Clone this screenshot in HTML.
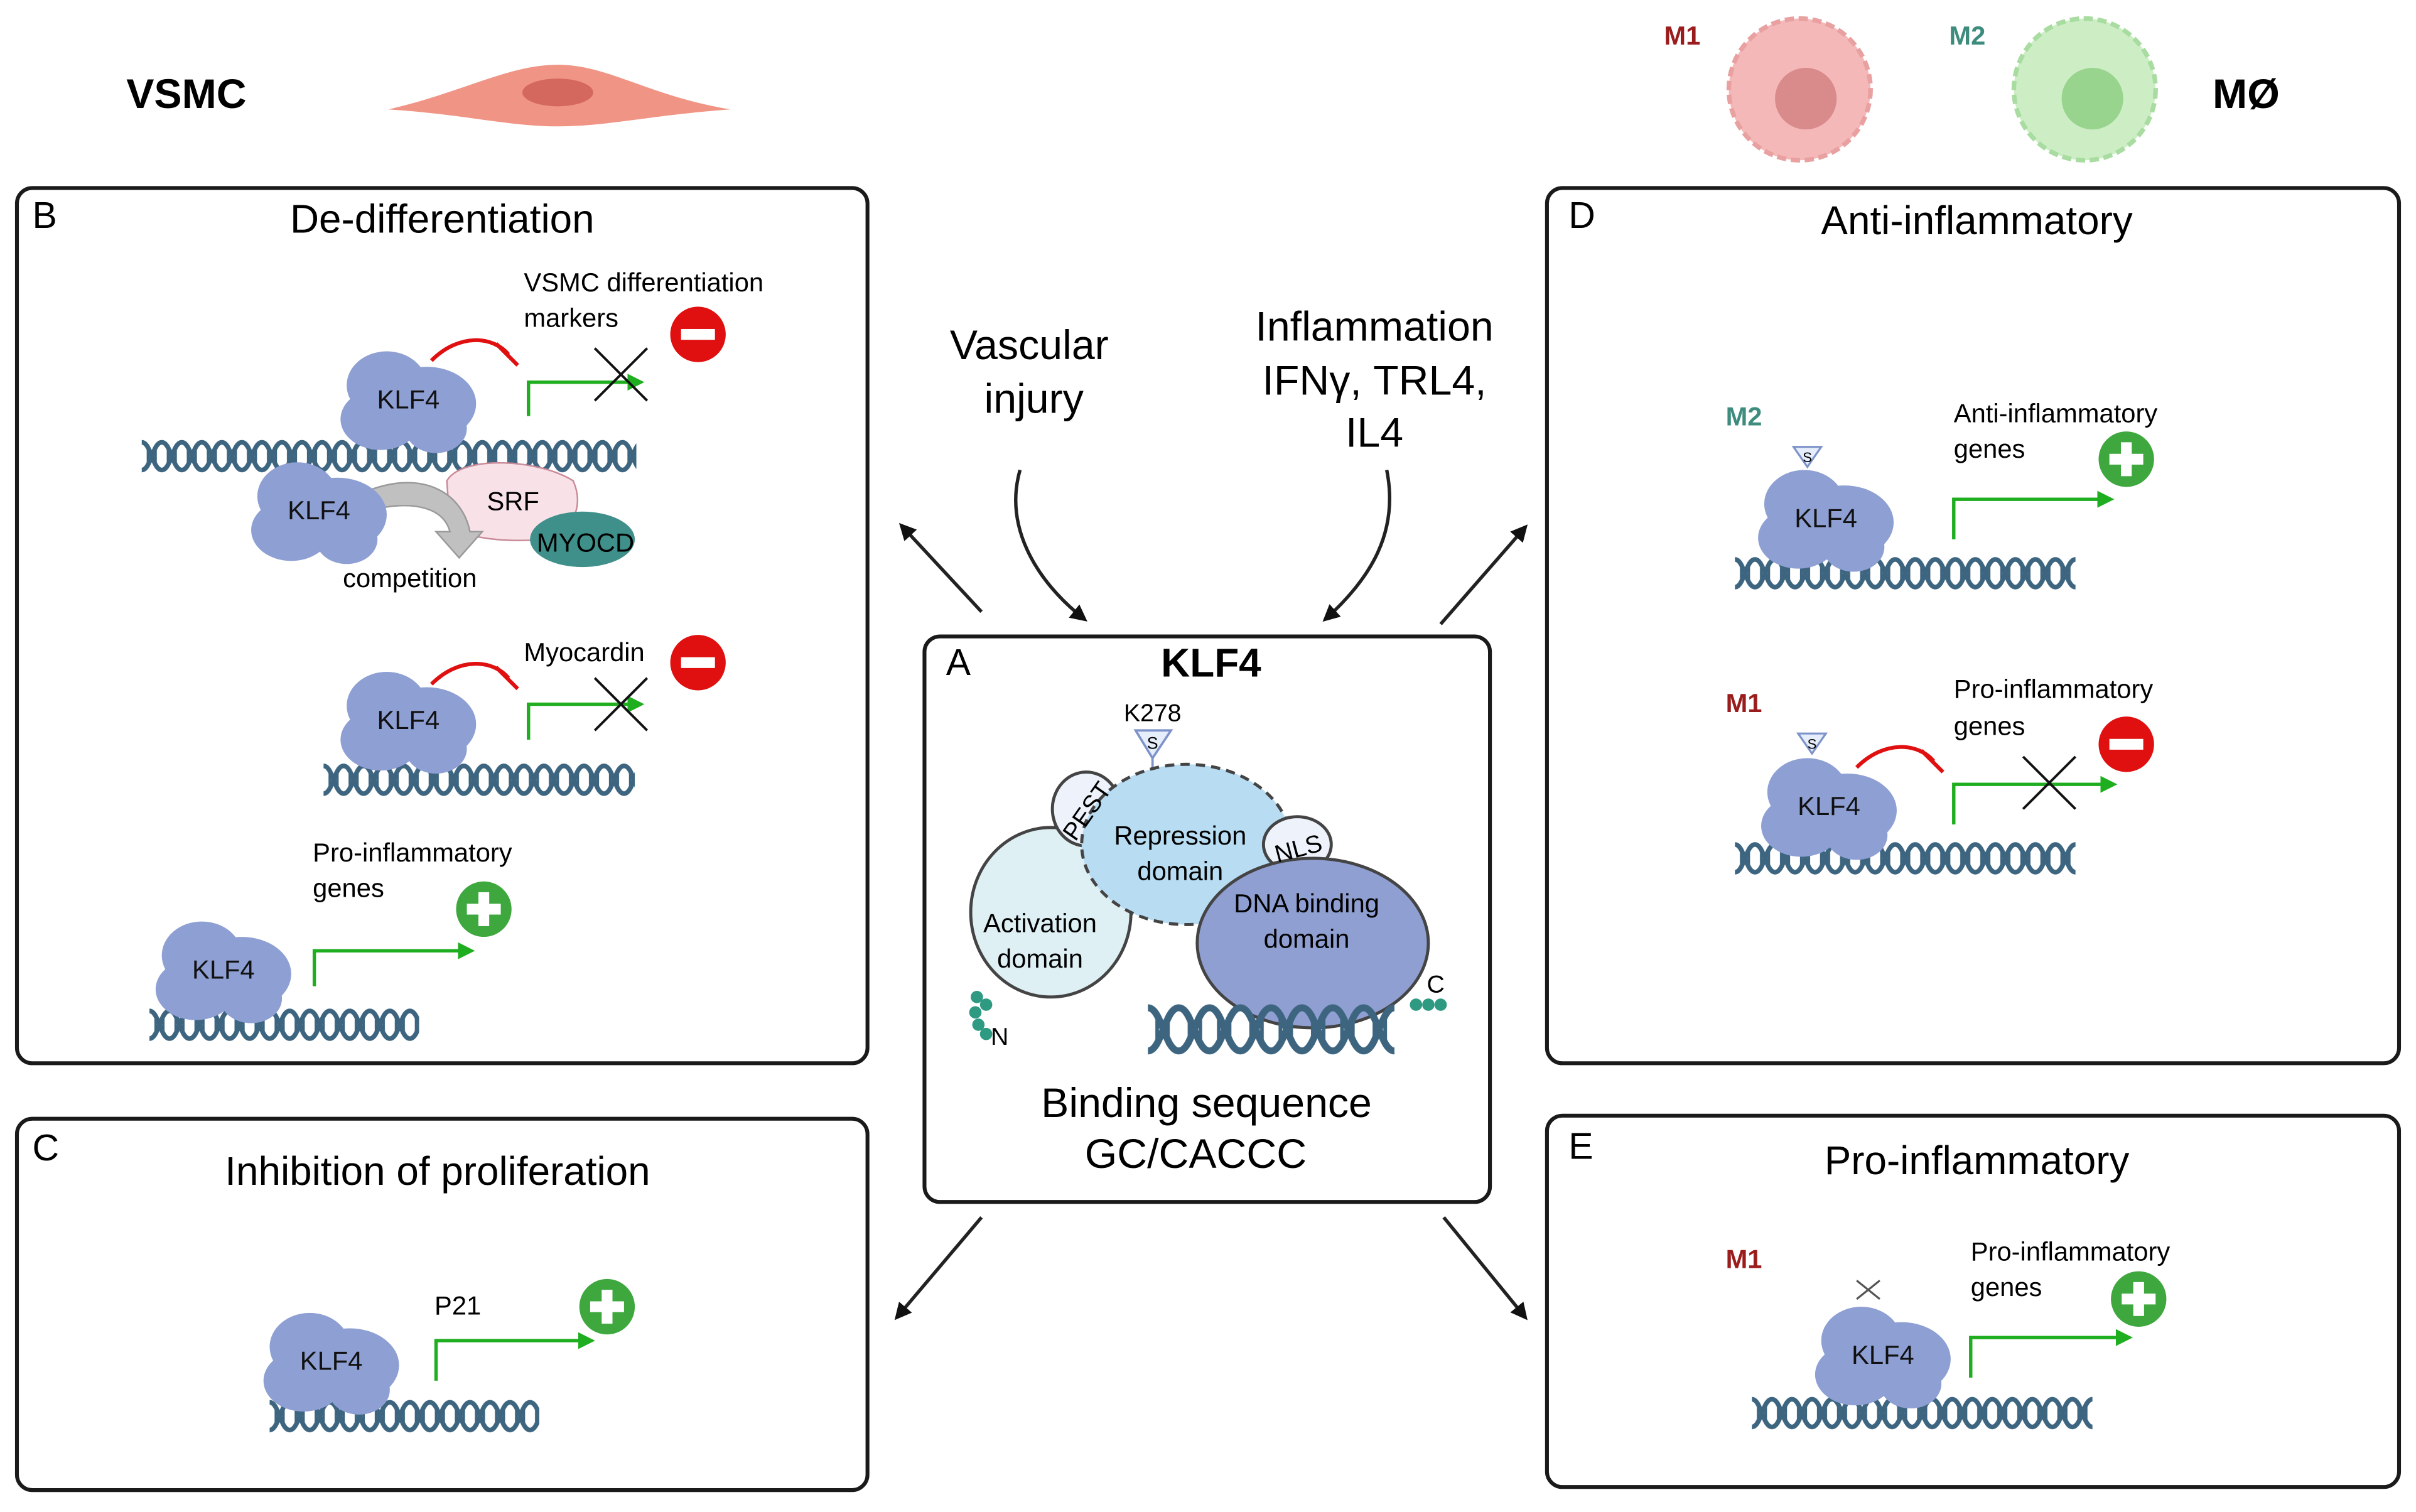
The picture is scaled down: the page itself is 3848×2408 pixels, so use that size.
<!DOCTYPE html>
<html><head><meta charset="utf-8"><style>html,body{margin:0;padding:0;background:#fff}svg{display:block}text{font-family:"Liberation Sans",sans-serif}</style></head>
<body>
<svg width="3848" height="2408" viewBox="0 0 1568 981.2" xmlns="http://www.w3.org/2000/svg">
<defs>
<pattern id="dna" x="0" y="0" width="26" height="24" patternUnits="userSpaceOnUse">
<g fill="none" stroke="#3d6580" stroke-width="3">
<path d="M0,3 C6,3 7,21 13,21 C19,21 20,3 26,3"/>
<path d="M0,21 C6,21 7,3 13,3 C19,3 20,21 26,21"/>
</g>
<g stroke="#3d6580" stroke-width="1.6"><line x1="4" y1="6" x2="4" y2="18"/><line x1="9" y1="6" x2="9" y2="18"/><line x1="17" y1="6" x2="17" y2="18"/><line x1="22" y1="6" x2="22" y2="18"/></g>
</pattern>
<pattern id="dnaB" x="0" y="0" width="40" height="36" patternUnits="userSpaceOnUse">
<g fill="none" stroke="#3d6580" stroke-width="4.5">
<path d="M0,4 C9,4 11,32 20,32 C29,32 31,4 40,4"/>
<path d="M0,32 C9,32 11,4 20,4 C29,4 31,32 40,32"/>
</g>
<g stroke="#3d6580" stroke-width="2.4"><line x1="6" y1="8" x2="6" y2="28"/><line x1="13" y1="8" x2="13" y2="28"/><line x1="27" y1="8" x2="27" y2="28"/><line x1="34" y1="8" x2="34" y2="28"/></g>
</pattern>
<g id="klf">
<ellipse cx="-12" cy="-8" rx="26" ry="22" fill="#8e9fd3"/>
<ellipse cx="14" cy="4" rx="32" ry="24" fill="#8e9fd3"/>
<ellipse cx="-16" cy="14" rx="26" ry="20" fill="#8e9fd3"/>
<ellipse cx="20" cy="20" rx="20" ry="16" fill="#8e9fd3"/>
<text x="2" y="7" font-size="17" text-anchor="middle" fill="#111">KLF4</text>
</g>
<marker id="ga" viewBox="0 0 10 10" refX="8" refY="5" markerWidth="5" markerHeight="5" orient="auto"><path d="M0,0 L10,5 L0,10z" fill="#1fae1f"/></marker>
<marker id="ka" viewBox="0 0 10 10" refX="8" refY="5" markerWidth="5" markerHeight="5" orient="auto"><path d="M0,0 L10,5 L0,10z" fill="#111"/></marker>
<g id="minus"><circle r="18" fill="#e01010"/><rect x="-11" y="-3.5" width="22" height="7" fill="#fff"/></g>
<g id="plus"><circle r="18" fill="#3ea83e"/><rect x="-11" y="-3.5" width="22" height="7" fill="#fff"/><rect x="-3.5" y="-11" width="7" height="22" fill="#fff"/></g>
<g id="xx" stroke="#111" stroke-width="1.6"><line x1="-17" y1="-17" x2="17" y2="17"/><line x1="-17" y1="17" x2="17" y2="-17"/></g>
<g id="inh"><path d="M0,12 C18,-6 40,-4 50,8" stroke="#e01010" stroke-width="2.5" fill="none"/><line x1="42" y1="1" x2="56" y2="15" stroke="#e01010" stroke-width="2.5"/></g>
</defs>

<!-- header -->
<text x="82" y="70" font-size="27" font-weight="bold">VSMC</text>
<path d="M252,71 C300,60 330,42 362,42 C395,42 420,62 474,71 C420,75 395,82 362,82 C330,82 300,74 252,71z" fill="#f09585"/>
<ellipse cx="362" cy="60" rx="23" ry="9" fill="#d4685f"/>
<text x="1080" y="29" font-size="17" font-weight="bold" fill="#9b1c1c">M1</text>
<circle cx="1168" cy="58" r="46" fill="#f4b8b8" stroke="#e8a0a0" stroke-width="3" stroke-dasharray="6 3"/>
<circle cx="1172" cy="64" r="20" fill="#d98a8a"/>
<text x="1265" y="29" font-size="17" font-weight="bold" fill="#3e8c7e">M2</text>
<circle cx="1353" cy="58" r="46" fill="#cdeec5" stroke="#a8dca0" stroke-width="3" stroke-dasharray="6 3"/>
<circle cx="1358" cy="64" r="20" fill="#98d48e"/>
<text x="1436" y="70" font-size="27" font-weight="bold">MØ</text>

<!-- boxes -->
<g fill="none" stroke="#1a1a1a" stroke-width="2.5">
<rect x="11" y="122" width="552" height="568" rx="10"/>
<rect x="11" y="726" width="552" height="241" rx="10"/>
<rect x="600" y="413" width="367" height="367" rx="10"/>
<rect x="1004" y="122" width="553" height="568" rx="10"/>
<rect x="1004" y="724" width="553" height="241" rx="10"/>
</g>

<!-- connectors -->
<g stroke="#222" stroke-width="2.2" fill="none" marker-end="url(#ka)">
<line x1="637" y1="397" x2="585" y2="341"/>
<path d="M662,305 C652,340 670,375 704,402"/>
<path d="M900,305 C908,345 890,375 860,402"/>
<line x1="935" y1="405" x2="990" y2="342"/>
<line x1="637" y1="790" x2="582" y2="855"/>
<line x1="937" y1="790" x2="990" y2="855"/>
</g>
<text x="668" y="233" font-size="27" text-anchor="middle">Vascular</text>
<text x="671" y="268" font-size="27" text-anchor="middle">injury</text>
<text x="892" y="221" font-size="27" text-anchor="middle">Inflammation</text>
<text x="892" y="256" font-size="27" text-anchor="middle">IFNγ, TRL4,</text>
<text x="892" y="290" font-size="27" text-anchor="middle">IL4</text>

<!-- Box B -->
<text x="21" y="148" font-size="24">B</text>
<text x="287" y="151" font-size="26" text-anchor="middle">De-differentiation</text>
<g transform="translate(92,284)"><rect width="321" height="24" fill="url(#dna)"/></g>
<use href="#klf" x="263" y="258"/>
<use href="#inh" x="280" y="222"/>
<path d="M343,270 V248 H416" stroke="#1fae1f" stroke-width="2.2" fill="none" marker-end="url(#ga)"/>
<use href="#xx" x="403" y="243"/>
<use href="#minus" x="453" y="217"/>
<text x="340" y="189" font-size="17">VSMC differentiation</text>
<text x="340" y="212" font-size="17">markers</text>
<path d="M290,312 C300,295 350,298 372,312 C380,330 370,345 355,350 C330,352 300,350 292,340z" fill="#f8e2e8" stroke="#c98a98" stroke-width="1"/>
<text x="333" y="331" font-size="17" text-anchor="middle">SRF</text>
<ellipse cx="378" cy="350" rx="34" ry="18" fill="#3f8f8a"/>
<text x="380" y="358" font-size="17" text-anchor="middle">MYOCD</text>
<path d="M240,318 C275,305 300,320 305,345 L313,345 L298,362 L283,345 L292,345 C288,330 270,325 245,330z" fill="#c0c0c0" stroke="#999" stroke-width="1"/>
<use href="#klf" x="205" y="330"/>
<text x="266" y="381" font-size="17" text-anchor="middle">competition</text>

<g transform="translate(210,494)"><rect width="202" height="24" fill="url(#dna)"/></g>
<use href="#klf" x="263" y="466"/>
<use href="#inh" x="280" y="432"/>
<path d="M343,480 V457 H416" stroke="#1fae1f" stroke-width="2.2" fill="none" marker-end="url(#ga)"/>
<use href="#xx" x="403" y="457"/>
<text x="340" y="429" font-size="17">Myocardin</text>
<use href="#minus" x="453" y="430"/>

<g transform="translate(97,653)"><rect width="175" height="24" fill="url(#dna)"/></g>
<use href="#klf" x="143" y="628"/>
<path d="M204,640 V617 H306" stroke="#1fae1f" stroke-width="2.2" fill="none" marker-end="url(#ga)"/>
<text x="203" y="559" font-size="17">Pro-inflammatory</text>
<text x="203" y="582" font-size="17">genes</text>
<use href="#plus" x="314" y="590"/>

<!-- Box C -->
<text x="21" y="753" font-size="24">C</text>
<text x="284" y="769" font-size="26" text-anchor="middle">Inhibition of proliferation</text>
<g transform="translate(175,907)"><rect width="175" height="24" fill="url(#dna)"/></g>
<use href="#klf" x="213" y="882"/>
<path d="M283,896 V870 H384" stroke="#1fae1f" stroke-width="2.2" fill="none" marker-end="url(#ga)"/>
<text x="282" y="853" font-size="17">P21</text>
<use href="#plus" x="394" y="848"/>

<!-- Box A -->
<text x="614" y="438" font-size="24">A</text>
<text x="786" y="439" font-size="26" font-weight="bold" text-anchor="middle">KLF4</text>
<text x="748" y="468" font-size="16" text-anchor="middle">K278</text>
<path d="M737,474 H760 L748,492z" fill="#e6eefc" stroke="#7d93c9" stroke-width="1.5"/>
<text x="748" y="486" font-size="11" text-anchor="middle">S</text>
<line x1="748" y1="492" x2="748" y2="502" stroke="#7d93c9" stroke-width="1.5"/>
<g stroke="#444" stroke-width="2">
<ellipse cx="682" cy="592" rx="52" ry="55" fill="#dff0f5"/>
<ellipse cx="705" cy="525" rx="22" ry="24" fill="#eef2fb"/>
<ellipse cx="770" cy="548" rx="68" ry="52" fill="#b8dcf2" stroke-dasharray="6 4"/>
<ellipse cx="842" cy="548" rx="22" ry="18" fill="#eef2fb"/>
<ellipse cx="852" cy="612" rx="75" ry="55" fill="#8f9fd1"/>
</g>
<text x="705" y="532" font-size="16" text-anchor="middle" transform="rotate(-55 705 526)">PEST</text>
<text x="843" y="556" font-size="16" text-anchor="middle" transform="rotate(-15 843 552)">NLS</text>
<text x="766" y="548" font-size="17" text-anchor="middle">Repression</text>
<text x="766" y="571" font-size="17" text-anchor="middle">domain</text>
<text x="675" y="605" font-size="17" text-anchor="middle">Activation</text>
<text x="675" y="628" font-size="17" text-anchor="middle">domain</text>
<text x="848" y="592" font-size="17" text-anchor="middle">DNA binding</text>
<text x="848" y="615" font-size="17" text-anchor="middle">domain</text>
<g transform="translate(745,650)"><rect width="160" height="36" fill="url(#dnaB)"/></g>
<g fill="#2e9a82"><circle cx="634" cy="647" r="4"/><circle cx="640" cy="652" r="4"/><circle cx="633" cy="657" r="4"/><circle cx="635" cy="665" r="4"/><circle cx="640" cy="671" r="4"/><circle cx="919" cy="652" r="4"/><circle cx="927" cy="652" r="4"/><circle cx="935" cy="652" r="4"/></g>
<text x="643" y="678" font-size="16">N</text>
<text x="926" y="644" font-size="16">C</text>
<text x="783" y="725" font-size="27" text-anchor="middle">Binding  sequence</text>
<text x="776" y="758" font-size="27" text-anchor="middle">GC/CACCC</text>

<!-- Box D -->
<text x="1018" y="148" font-size="24">D</text>
<text x="1283" y="152" font-size="26" text-anchor="middle">Anti-inflammatory</text>
<text x="1120" y="276" font-size="17" font-weight="bold" fill="#3e8c7e">M2</text>
<g transform="translate(1126,360)"><rect width="221" height="24" fill="url(#dna)"/></g>
<path d="M1164,290 H1182 L1173,303z" fill="#e6eefc" stroke="#7d93c9" stroke-width="1.3"/><text x="1173" y="300" font-size="9" text-anchor="middle">S</text>
<use href="#klf" x="1183" y="335"/>
<path d="M1268,350 V324 H1370" stroke="#1fae1f" stroke-width="2.2" fill="none" marker-end="url(#ga)"/>
<text x="1268" y="274" font-size="17">Anti-inflammatory</text>
<text x="1268" y="297" font-size="17">genes</text>
<use href="#plus" x="1380" y="298"/>

<text x="1120" y="462" font-size="17" font-weight="bold" fill="#9b1c1c">M1</text>
<g transform="translate(1126,545)"><rect width="221" height="24" fill="url(#dna)"/></g>
<path d="M1167,476 H1185 L1176,489z" fill="#e6eefc" stroke="#7d93c9" stroke-width="1.3"/><text x="1176" y="486" font-size="9" text-anchor="middle">S</text>
<use href="#klf" x="1185" y="522"/>
<use href="#inh" x="1205" y="486"/>
<path d="M1268,535 V509 H1372" stroke="#1fae1f" stroke-width="2.2" fill="none" marker-end="url(#ga)"/>
<use href="#xx" x="1330" y="508"/>
<text x="1268" y="453" font-size="17">Pro-inflammatory</text>
<text x="1268" y="477" font-size="17">genes</text>
<use href="#minus" x="1380" y="483"/>

<!-- Box E -->
<text x="1018" y="752" font-size="24">E</text>
<text x="1283" y="762" font-size="26" text-anchor="middle">Pro-inflammatory</text>
<text x="1120" y="823" font-size="17" font-weight="bold" fill="#9b1c1c">M1</text>
<g transform="translate(1137,905)"><rect width="221" height="24" fill="url(#dna)"/></g>
<g stroke="#555" stroke-width="1.3"><line x1="1205" y1="831" x2="1220" y2="843"/><line x1="1205" y1="843" x2="1220" y2="831"/></g>
<use href="#klf" x="1220" y="878"/>
<path d="M1279,894 V868 H1382" stroke="#1fae1f" stroke-width="2.2" fill="none" marker-end="url(#ga)"/>
<text x="1279" y="818" font-size="17">Pro-inflammatory</text>
<text x="1279" y="841" font-size="17">genes</text>
<use href="#plus" x="1388" y="843"/>
</svg>
</body></html>
